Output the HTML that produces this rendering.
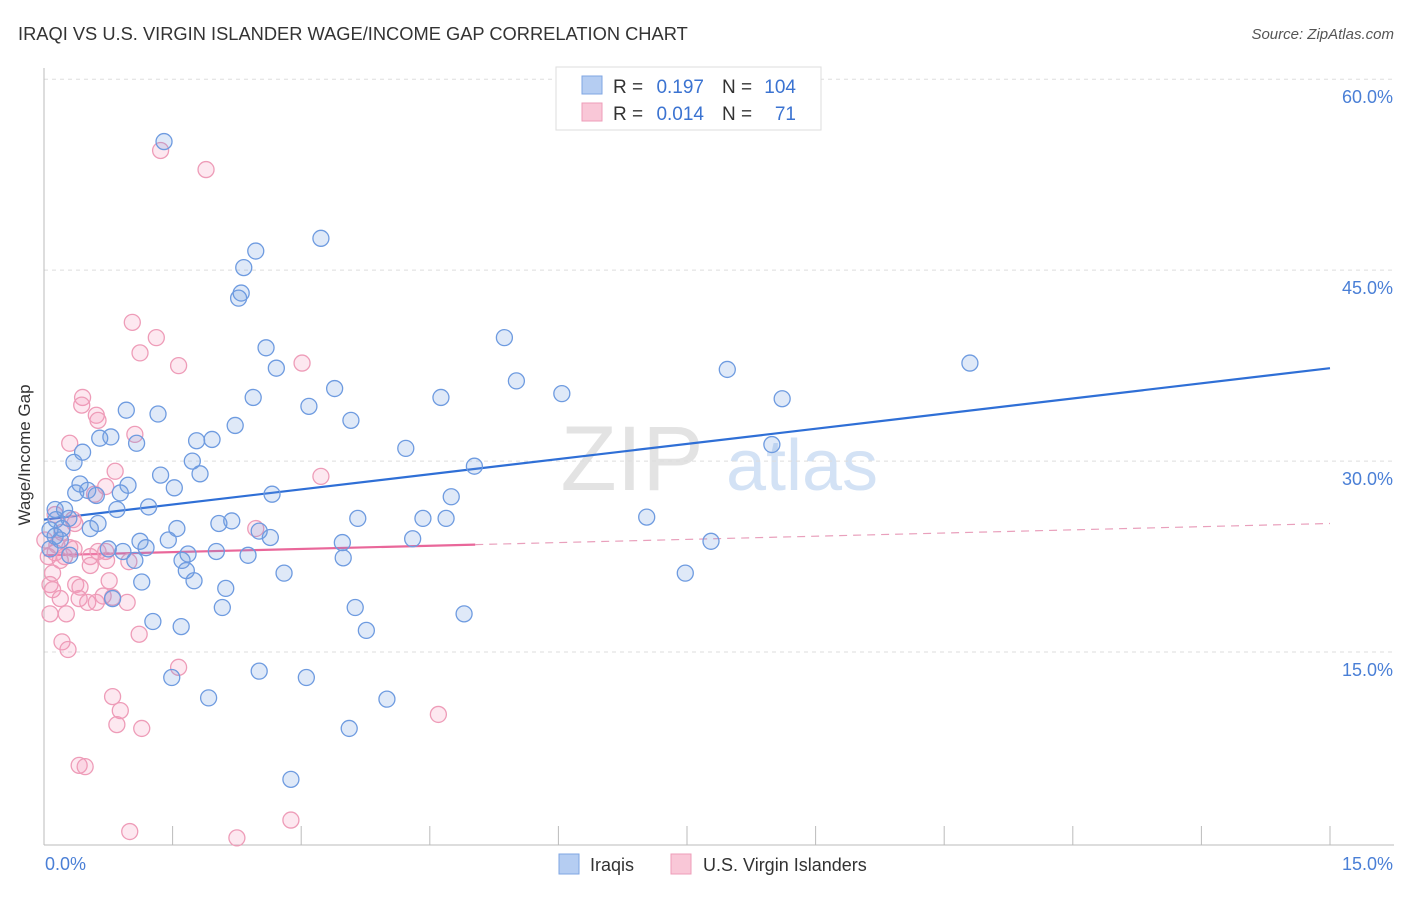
<!DOCTYPE html>
<html><head><meta charset="utf-8"><style>
body{margin:0;background:#fff;font-family:"Liberation Sans",sans-serif;}
svg text{font-family:"Liberation Sans",sans-serif;}
</style></head><body>
<svg id="chart" width="1406" height="892">
<text x="18" y="40" font-size="18.3" fill="#333">IRAQI VS U.S. VIRGIN ISLANDER WAGE/INCOME GAP CORRELATION CHART</text>
<text x="1394" y="39" font-size="15" fill="#555" font-style="italic" text-anchor="end">Source: ZipAtlas.com</text>
<g>
<text x="632" y="490" font-size="92" fill="#ddd" font-family="Liberation Serif" text-anchor="middle" opacity="0.8">ZIP</text>
<text x="802" y="490" font-size="72" fill="#c9dbf3" text-anchor="middle" opacity="0.8">atlas</text>
</g>
<g id="grid"></g><g id="axes"></g><g id="trend"></g><g id="points"></g>
<text x="30" y="455" font-size="17" fill="#333" transform="rotate(-90 30 455)" text-anchor="middle">Wage/Income Gap</text>
<text x="45" y="870" font-size="18" fill="#4a7fd6">0.0%</text>
<text x="1393" y="870" font-size="18" fill="#4a7fd6" text-anchor="end">15.0%</text>
<g>
<rect x="556" y="67" width="265" height="63" fill="#fff" stroke="#ddd"/>
<rect x="582" y="76" width="20" height="18" fill="#b5cdf2" stroke="#7fa6e3"/>
<rect x="582" y="103" width="20" height="18" fill="#f9c7d7" stroke="#ee9cb8"/>
<text x="613" y="93" font-size="19" fill="#333">R =</text>
<text x="704" y="93" font-size="19" fill="#3b73d1" text-anchor="end">0.197</text>
<text x="722" y="93" font-size="19" fill="#333">N =</text>
<text x="796" y="93" font-size="19" fill="#3b73d1" text-anchor="end">104</text>
<text x="613" y="120" font-size="19" fill="#333">R =</text>
<text x="704" y="120" font-size="19" fill="#3b73d1" text-anchor="end">0.014</text>
<text x="722" y="120" font-size="19" fill="#333">N =</text>
<text x="796" y="120" font-size="19" fill="#3b73d1" text-anchor="end">71</text>
</g>
<g>
<rect x="559" y="854" width="20" height="20" fill="#b5cdf2" stroke="#7fa6e3"/>
<text x="590" y="871" font-size="18" fill="#333">Iraqis</text>
<rect x="671" y="854" width="20" height="20" fill="#f9c7d7" stroke="#ee9cb8"/>
<text x="703" y="871" font-size="18" fill="#333">U.S. Virgin Islanders</text>
</g>
</svg>
<script>
const yTicks=[15,30,45,60];
const yTickLabels=["15.0%","30.0%","45.0%","60.0%"];
const xTicks=[0,1.5,3,4.5,6,7.5,9,10.5,12,13.5,15];
const iraqiX=[1.40,3.23,2.47,2.33,2.30,2.27,5.37,2.59,2.71,5.51,3.39,2.44,6.04,4.63,7.97,8.61,10.80,0.96,1.33,3.09,3.58,2.23,0.65,0.78,1.08,1.78,1.96,4.22,8.49,0.35,0.45,1.73,5.02,1.36,1.82,0.42,0.98,1.52,0.51,0.37,0.89,0.61,2.66,4.75,1.22,0.85,0.24,0.13,0.29,7.03,3.66,4.42,4.69,2.19,2.04,0.63,0.54,1.55,2.51,2.64,0.13,0.07,0.19,1.12,1.45,3.48,4.30,7.78,0.75,0.92,1.19,2.01,1.68,2.38,0.30,3.49,0.07,1.61,1.06,1.66,2.80,7.48,1.75,1.14,2.12,0.80,3.63,4.90,2.08,1.27,1.60,3.76,1.49,2.51,3.06,1.92,4.00,3.56,2.88,0.14,0.21];
const iraqiY=[55.1,47.5,46.5,45.2,43.2,42.8,39.7,38.9,37.3,36.3,35.7,35.0,35.3,35.0,37.2,34.9,37.7,34.0,33.7,34.3,33.2,32.8,31.8,31.9,31.4,31.6,31.7,31.0,31.3,29.9,30.7,30.0,29.6,28.9,29.0,28.2,28.1,27.9,27.7,27.5,27.5,27.3,27.4,27.2,26.4,26.2,26.2,26.2,25.5,25.6,25.5,25.5,25.5,25.3,25.1,25.1,24.7,24.7,24.5,24.0,24.1,24.6,23.8,23.7,23.8,23.6,23.9,23.7,23.1,22.9,23.2,22.9,22.7,22.6,22.6,22.4,23.1,22.2,22.2,21.4,21.2,21.2,20.6,20.5,20.0,19.2,18.5,18.0,18.5,17.4,17.0,16.7,13.0,13.5,13.0,11.4,11.3,9.0,5.0,25.4,24.7];
const islX=[1.36,1.89,1.03,1.31,1.12,1.57,3.01,0.45,0.44,0.61,0.63,1.06,0.30,0.83,3.23,0.72,0.59,0.34,0.13,0.36,2.47,0.21,0.63,0.72,0.54,0.24,0.13,0.35,0.99,0.19,0.54,0.73,0.10,0.76,0.07,0.37,0.42,0.10,0.19,0.41,0.69,0.80,0.97,0.51,0.61,0.07,0.26,0.21,0.28,1.11,1.57,0.80,0.89,0.85,1.14,4.60,0.41,0.48,1.00,2.25,2.88,0.01,0.15,0.05,0.30];
const islY=[54.4,52.9,40.9,39.7,38.5,37.5,37.7,35.0,34.4,33.6,33.2,32.1,31.4,29.2,28.8,28.0,27.4,25.4,25.8,25.1,24.7,24.4,22.9,22.9,22.5,22.5,22.8,23.1,22.1,22.2,21.8,22.2,21.2,20.6,20.3,20.3,20.1,19.9,19.2,19.2,19.4,19.3,18.9,18.9,18.9,18.0,18.0,15.8,15.2,16.4,13.8,11.5,10.4,9.3,9.0,10.1,6.1,6.0,0.9,0.4,1.8,23.8,23.4,22.5,23.2];
const iraqiTrend=[25.4,37.3];
const islTrend=[22.6,25.1];
const islSolidEnd=5.03;

const NS="http://www.w3.org/2000/svg";
const sx=v=>44+v*(1286/15);
const sy=v=>843-v*12.73;
function mk(tag,attrs,parent){const e=document.createElementNS(NS,tag);for(const k in attrs)e.setAttribute(k,attrs[k]);document.getElementById(parent).appendChild(e);return e;}
yTicks.forEach((t,i)=>{
  const g=mk('line',{x1:44,x2:1394,y1:sy(t),y2:sy(t),stroke:'#ddd','stroke-dasharray':'4,4'},'grid');
  
  
  const l=mk('text',{x:1393,y:sy(t)+24,'font-size':18,fill:'#4a7fd6','text-anchor':'end'},'grid');
  l.textContent=yTickLabels[i];
  
  
});
const ax=mk('line',{x1:44,x2:1394,y1:845,y2:845,stroke:'#bbb'},'axes');


const ay=mk('line',{x1:44,x2:44,y1:68,y2:845,stroke:'#bbb'},'axes');


xTicks.forEach(t=>{
  const k=mk('line',{x1:sx(t),x2:sx(t),y1:826,y2:845,stroke:'#bbb'},'axes');
  
  
});
function dots(X,Y,fill,stroke,name){
  X.forEach((x,i)=>{
    const c=mk('circle',{cx:sx(x),cy:sy(Y[i]),r:8,fill:fill,stroke:stroke,'stroke-width':1.3},'points');
    
    
  });
}
dots(islX,islY,'rgba(244,150,185,0.22)','#ee9cb8','point-virgin-islander');
dots(iraqiX,iraqiY,'rgba(110,155,225,0.22)','#6e9be0','point-iraqi');
const t1=mk('line',{x1:sx(0),y1:sy(iraqiTrend[0]),x2:sx(15),y2:sy(iraqiTrend[1]),stroke:'#2f6fd6','stroke-width':2.2},'trend');


const pAt=x=>islTrend[0]+(islTrend[1]-islTrend[0])*x/15;
const t2=mk('line',{x1:sx(0),y1:sy(pAt(0)),x2:sx(islSolidEnd),y2:sy(pAt(islSolidEnd)),stroke:'#e9679a','stroke-width':2.2},'trend');


const t3=mk('line',{x1:sx(islSolidEnd),y1:sy(pAt(islSolidEnd)),x2:sx(15),y2:sy(pAt(15)),stroke:'#e9a0bc','stroke-width':1.2,'stroke-dasharray':'8,6'},'trend');


</script>
</body></html>
